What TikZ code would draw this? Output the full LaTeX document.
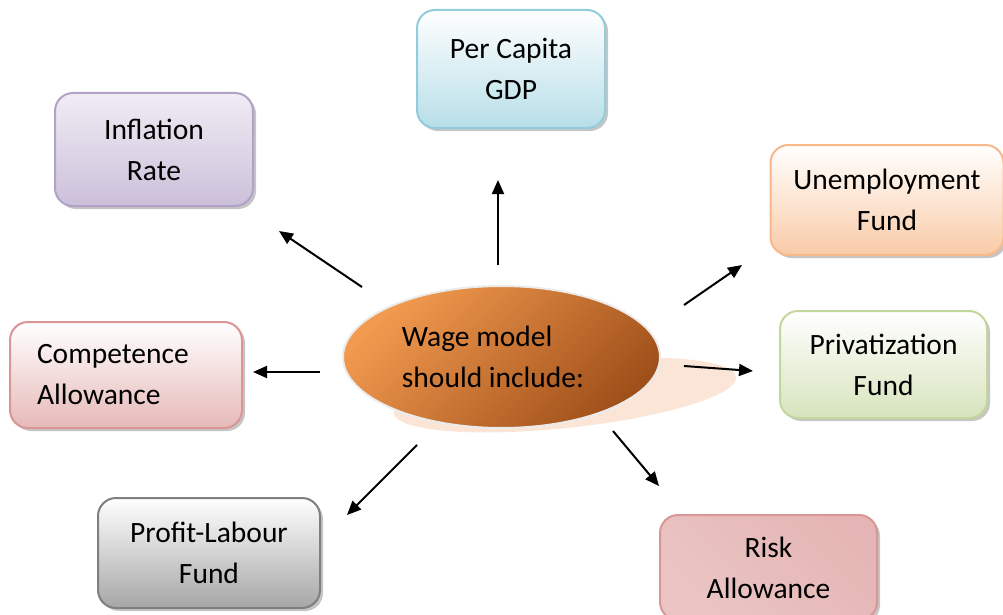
\documentclass[tikz,border=0pt]{standalone}
\usepackage{fontspec}
\setmainfont{Carlito}
\usetikzlibrary{shapes.geometric,shadows,arrows.meta}

\definecolor{gdpline}{HTML}{93CDDD}
\definecolor{gdpfill}{HTML}{B7DEE8}
\definecolor{inflline}{HTML}{B3A2C7}
\definecolor{inflfill}{HTML}{CCC0DA}
\definecolor{unempline}{HTML}{F9B88A}
\definecolor{unempfill}{HTML}{F9CBA7}
\definecolor{privline}{HTML}{C3D69B}
\definecolor{privfill}{HTML}{D7E4BD}
\definecolor{compline}{HTML}{D99694}
\definecolor{compfill}{HTML}{E6B9B8}
\definecolor{profitline}{HTML}{7F7F7F}
\definecolor{profitfill}{HTML}{A6A6A6}
\definecolor{riskdark}{HTML}{D99694}
\definecolor{risklight}{HTML}{F6E6E5}
\definecolor{wagelight}{HTML}{F29A4F}
\definecolor{wagedark}{HTML}{A0501A}
\definecolor{wageshadow}{HTML}{FBE5D6}

\tikzset{
	box/.style={draw, line width=2pt, rounded corners=18pt, align=center, inner sep=0pt,
		font=\fontsize{29.5}{41}\selectfont,
		drop shadow={shadow xshift=3pt, shadow yshift=-3pt, fill=black!45, opacity=.5}},
	arr/.style={line width=2pt, -{Triangle[length=14pt, width=12pt]}}
}

\begin{document}
\begin{tikzpicture}[x=1pt, y=-1pt]
		\useasboundingbox (0, 0) rectangle (1003, 615);
		% centre
		\fill[wageshadow, rotate around={6:(565, 395)}] (565, 395) ellipse [x radius=172, y radius=33];
		\node[ellipse, draw=black!8, line width=2pt, top color=wagelight, bottom color=wagedark, shading angle=45,
			minimum width=317pt, minimum height=142pt, inner sep=0pt, align=left,
			font=\fontsize{29.5}{41}\selectfont] (wage) at (501.5, 357) {Wage model\\should include:\hspace*{17pt}};
		% boxes
		\node[box, draw=gdpline, top color=white, bottom color=gdpfill, minimum width=188pt, minimum height=118pt] (gdp) at (511, 69) {Per Capita\\GDP};
		\node[box, draw=inflline, top color=inflfill!30, bottom color=inflfill, minimum width=198pt, minimum height=113pt] (infl) at (154, 149.5) {Inflation\\Rate};
		\node[box, draw=unempline, top color=white, bottom color=unempfill, minimum width=233pt, minimum height=110pt] (unemp) at (887, 200) {Unemployment\\Fund};
		\node[box, draw=privline, top color=white, bottom color=privfill, minimum width=207pt, minimum height=107pt] (priv) at (883.5, 364.5) {Privatization\\Fund};
		\node[box, draw=compline, top color=white, bottom color=compfill, minimum width=232pt, minimum height=106pt,
			align=left, text width=178pt] (comp) at (126, 375) {Competence\\Allowance};
		\node[box, draw=profitline, top color=white, bottom color=profitfill, minimum width=222pt, minimum height=110pt] (profit) at (209, 553) {Profit-Labour\\Fund};
		\node[box, draw=riskdark, top color=riskdark!70, middle color=risklight, bottom color=riskdark!55, shading angle=-45,
			minimum width=217pt, minimum height=105pt] (risk) at (768.5, 567.5) {Risk\\Allowance};
		% arrows
		\coordinate (t-gdp) at (498, 265);    \coordinate (h-gdp) at (498, 180);
		\coordinate (t-infl) at (362, 287);   \coordinate (h-infl) at (279, 231);
		\coordinate (t-comp) at (320, 372);   \coordinate (h-comp) at (253, 372);
		\coordinate (t-unemp) at (684, 305);  \coordinate (h-unemp) at (742, 265);
		\coordinate (t-priv) at (684, 366);   \coordinate (h-priv) at (753, 371);
		\coordinate (t-profit) at (417, 445); \coordinate (h-profit) at (347, 515);
		\coordinate (t-risk) at (613, 431);   \coordinate (h-risk) at (659, 486);
		\foreach \n in {gdp, infl, comp, unemp, priv, profit, risk}
			\draw[arr] (t-\n) -- (h-\n);
	\end{tikzpicture}
\end{document}
